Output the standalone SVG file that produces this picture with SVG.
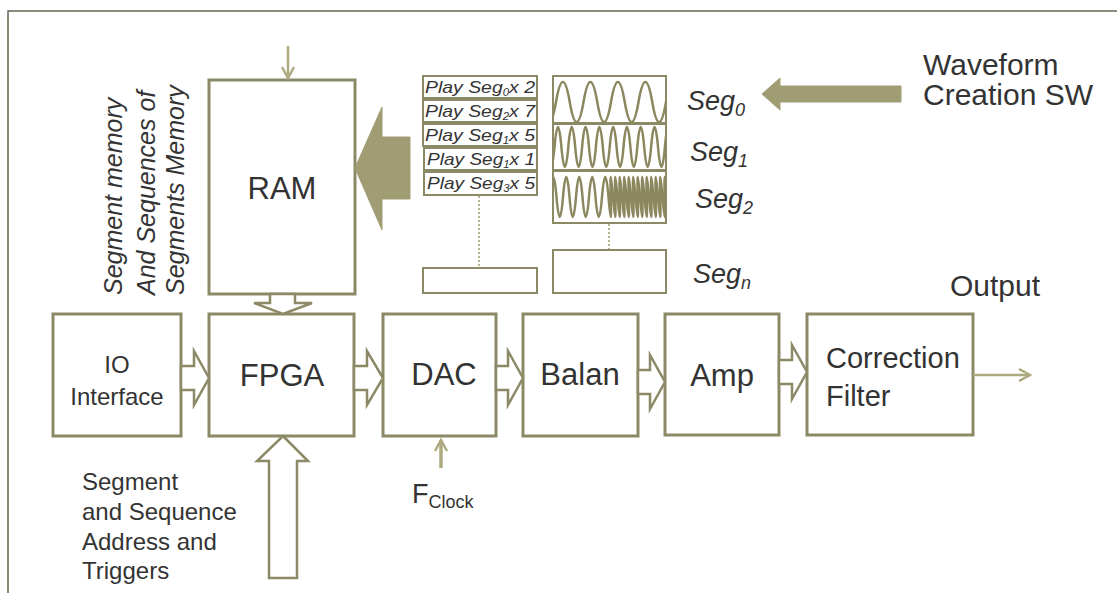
<svg xmlns="http://www.w3.org/2000/svg" width="1117" height="593" viewBox="0 0 1117 593">
<style>
.box{fill:#fff;stroke:#8c8966;stroke-width:3}
.thin{fill:#fff;stroke:#8c8966;stroke-width:2}
.t{font-family:"Liberation Sans",Arial,sans-serif;fill:#333}
.it{font-style:italic}
.hollow{fill:#fff;stroke:#8c8966;stroke-width:2.5;stroke-linejoin:miter}
.light{fill:none;stroke:#aeaa80;stroke-width:2.5}
.wave{fill:none;stroke:#8b875e;stroke-width:2.5}
.dot{fill:none;stroke:#b8b490;stroke-width:2;stroke-dasharray:2 2}
</style>
<defs>
<marker id="chev" markerWidth="14" markerHeight="14" refX="12" refY="7" orient="auto" markerUnits="userSpaceOnUse">
<path d="M1,1 L12,7 L1,13" fill="none" stroke="#aeaa80" stroke-width="2.5"/>
</marker>
<clipPath id="c0"><rect x="554" y="77" width="112" height="46"/></clipPath>
<clipPath id="c1"><rect x="554" y="125" width="112" height="44"/></clipPath>
<clipPath id="c2"><rect x="554" y="171" width="112" height="51"/></clipPath>
</defs>
<rect width="1117" height="593" fill="#fff"/>
<g id="frame"><path d="M8,593 L8,11 L1117,11" fill="none" stroke="#66644f" stroke-width="1.5"/></g>

<g id="ram"><rect class="box" x="209" y="80" width="146" height="214"/><text class="t" x="282" y="199" font-size="31" text-anchor="middle">RAM</text></g>
<g id="mem-label" class="t it" font-size="25">
<text transform="translate(122,295) rotate(-90)">Segment memory</text>
<text transform="translate(155,295) rotate(-90)">And Sequences of</text>
<text transform="translate(184,295) rotate(-90)">Segments Memory</text>
</g>

<g id="io"><rect class="box" x="53" y="314" width="128" height="122"/><text class="t" font-size="24" text-anchor="middle"><tspan x="117" y="373">IO</tspan><tspan x="117" y="405">Interface</tspan></text></g>
<g id="fpga"><rect class="box" x="209" y="314" width="145" height="122"/><text class="t" x="282" y="386" font-size="31" text-anchor="middle">FPGA</text></g>
<g id="dac"><rect class="box" x="383" y="314" width="113" height="122"/><text class="t" x="444" y="385" font-size="31" text-anchor="middle">DAC</text></g>
<g id="balan"><rect class="box" x="523" y="314" width="115" height="122"/><text class="t" x="580" y="385" font-size="31" text-anchor="middle">Balan</text></g>
<g id="amp"><rect class="box" x="665" y="314" width="114" height="121"/><text class="t" x="722" y="386" font-size="31" text-anchor="middle">Amp</text></g>
<g id="filter"><rect class="box" x="807" y="314" width="166" height="121"/><text class="t" font-size="29"><tspan x="826" y="368">Correction</tspan><tspan x="826" y="406">Filter</tspan></text></g>
<g id="output"><text class="t" x="950" y="296" font-size="30">Output</text></g>
<g id="fclock"><text class="t" x="412" y="503" font-size="27">F<tspan font-size="18" dy="5">Clock</tspan></text></g>
<g id="addr-label"><text class="t" font-size="24"><tspan x="82" y="490">Segment</tspan><tspan x="82" y="520">and Sequence</tspan><tspan x="82" y="550">Address and</tspan><tspan x="82" y="579">Triggers</tspan></text></g>
<g id="sw"><text class="t" font-size="30"><tspan x="923" y="75">Waveform</tspan><tspan x="923" y="105">Creation SW</tspan></text></g>

<g id="sequences" class="t it" font-size="17">
<rect class="thin" x="423" y="76" width="114" height="22"/>
<rect class="thin" x="423" y="100" width="114" height="22"/>
<rect class="thin" x="423" y="124" width="114" height="22"/>
<rect class="thin" x="424" y="148" width="113" height="22"/>
<rect class="thin" x="424" y="172" width="113" height="23"/>
<text x="425" y="93" textLength="110" lengthAdjust="spacingAndGlyphs">Play Seg<tspan font-size="10" dy="3">0</tspan><tspan dy="-3">x 2</tspan></text>
<text x="425" y="117" textLength="110" lengthAdjust="spacingAndGlyphs">Play Seg<tspan font-size="10" dy="3">2</tspan><tspan dy="-3">x 7</tspan></text>
<text x="425" y="141" textLength="110" lengthAdjust="spacingAndGlyphs">Play Seg<tspan font-size="10" dy="3">1</tspan><tspan dy="-3">x 5</tspan></text>
<text x="427" y="165" textLength="108" lengthAdjust="spacingAndGlyphs">Play Seg<tspan font-size="10" dy="3">1</tspan><tspan dy="-3">x 1</tspan></text>
<text x="427" y="189" textLength="108" lengthAdjust="spacingAndGlyphs">Play Seg<tspan font-size="10" dy="3">3</tspan><tspan dy="-3">x 5</tspan></text>
<line class="dot" x1="479" y1="196" x2="479" y2="268"/>
<rect class="thin" x="423" y="268" width="114" height="25"/>
</g>

<g id="segments">
<rect class="thin" x="553" y="76" width="113" height="47"/>
<rect class="thin" x="553" y="124" width="113" height="46"/>
<rect class="thin" x="553" y="171" width="113" height="52"/>
<path class="wave" clip-path="url(#c0)" d="M528.5,102 Q535.4,62 542.25,102 T556,102 T569.75,102 T583.5,102 T597.25,102 T611,102 T624.75,102 T638.5,102 T652.25,102 T666,102 T679.75,102"/>
<path class="wave" clip-path="url(#c1)" d="M540.7,147 Q544.15,107 547.6,147 T554.5,147 T561.4,147 T568.3,147 T575.2,147 T582.1,147 T589,147 T595.9,147 T602.8,147 T609.7,147 T616.6,147 T623.5,147 T630.4,147 T637.3,147 T644.2,147 T651.1,147 T658,147 T664.9,147 T671.8,147"/>
<path class="wave" clip-path="url(#c2)" d="M550,197 Q553.25,157 556.5,197 T563,197 T569.5,197 T576,197 T582.5,197 T589,197 T595.5,197 T602,197 T608.5,197 T610.75,197 T613,197 T615.25,197 T617.5,197 T619.75,197 T622,197 T624.25,197 T626.5,197 T628.75,197 T631,197 T633.25,197 T635.5,197 T637.75,197 T640,197 T642.25,197 T644.5,197 T646.75,197 T649,197 T651.25,197 T653.5,197 T655.75,197 T658,197 T660.25,197 T662.5,197 T664.75,197 T667,197"/>
<line class="dot" x1="609" y1="224" x2="609" y2="250"/>
<rect class="thin" x="553" y="250" width="113" height="43"/>
<g class="t it" font-size="27">
<text x="687" y="110">Seg<tspan font-size="18" dy="6">0</tspan></text>
<text x="690" y="161">Seg<tspan font-size="18" dy="6">1</tspan></text>
<text x="695" y="208">Seg<tspan font-size="18" dy="6">2</tspan></text>
<text x="693" y="283">Seg<tspan font-size="18" dy="6">n</tspan></text>
</g>
</g>

<g id="connectors">
<line class="light" x1="288" y1="46" x2="288" y2="78" marker-end="url(#chev)"/>
<polygon points="355,168 382,107 382,137 410,137 410,199 382,199 382,230" fill="#a09d74" stroke="#a09d74" stroke-width="1"/>
<polygon points="762,94 780,78 780,86 901,86 901,102 780,102 780,110" fill="#a09d74" stroke="#a09d74" stroke-width="1"/>
<polygon class="hollow" points="270,294 295,294 295,303 312,303 283,314 254,303 270,303"/>
<polygon class="hollow" points="283,436 308,461 297,461 297,578 269,578 269,461 257,461"/>
<polygon class="hollow" points="181,366 194,366 194,351 209,378 194,405 194,390 181,390"/>
<polygon class="hollow" points="354,366 367,366 367,351 383,378 367,405 367,390 354,390"/>
<polygon class="hollow" points="496,366 508,366 508,351 523,378 508,405 508,390 496,390"/>
<polygon class="hollow" points="638,370 650,370 650,355 665,382 650,409 650,394 638,394"/>
<polygon class="hollow" points="779,360 792,360 792,345 807,372 792,399 792,384 779,384"/>
<line x1="441" y1="468" x2="441" y2="440" stroke="#aeaa80" stroke-width="3.5" marker-end="url(#chev)"/>
<line class="light" x1="973" y1="375" x2="1030" y2="375" marker-end="url(#chev)"/>
</g>
</svg>
